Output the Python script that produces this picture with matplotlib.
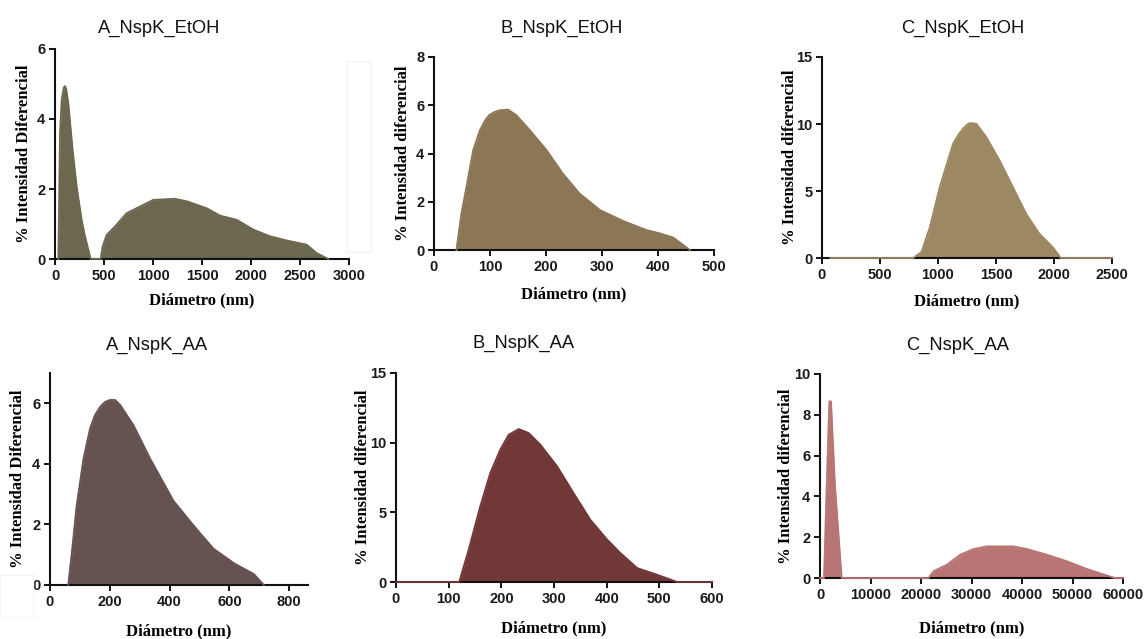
import matplotlib
matplotlib.use("Agg")
import matplotlib.pyplot as plt
from matplotlib.patches import Rectangle

# ---------------- data ----------------
titles = ["A_NspK_EtOH", "B_NspK_EtOH", "C_NspK_EtOH",
          "A_NspK_AA", "B_NspK_AA", "C_NspK_AA"]
ylabels = ["% Intensidad Diferencial", "% Intensidad diferencial", "% Intensidad diferencial",
           "% Intensidad Diferencial", "% Intensidad diferencial", "% Intensidad diferencial"]
xlabel = "Diámetro (nm)"

a_etoh_x = [34, 51, 68, 90, 102, 115, 136, 180, 221, 272, 306, 364, 466, 486, 527, 612, 731, 867,
            1003, 1224, 1343, 1548, 1684, 1854, 2024, 2194, 2364, 2568, 2670, 2789]
a_etoh_y = [0, 3.59, 4.55, 4.90, 4.94, 4.85, 4.45, 3.12, 2.07, 1.12, 0.65, 0, 0, 0.36, 0.69, 0.93,
            1.31, 1.50, 1.69, 1.72, 1.65, 1.45, 1.24, 1.12, 0.84, 0.65, 0.53, 0.41, 0.17, 0]

b_etoh_x = [40, 49, 58, 70, 82, 92, 99, 108, 117, 132, 147, 171, 201, 230, 260, 296, 338, 379,
            403, 427, 457]
b_etoh_y = [0, 1.52, 2.62, 4.14, 4.97, 5.40, 5.60, 5.72, 5.79, 5.82, 5.59, 4.97, 4.14, 3.17,
            2.34, 1.66, 1.20, 0.83, 0.69, 0.52, 0]

c_etoh_x = [72, 786, 858, 930, 1015, 1130, 1180, 1216, 1250, 1273, 1330, 1416, 1530, 1645,
            1759, 1873, 1988, 2059, 2500]
c_etoh_y = [0, 0, 0.45, 2.31, 5.30, 8.53, 9.25, 9.65, 9.95, 10.07, 10.02, 9.03, 7.29, 5.30,
            3.31, 1.82, 0.82, 0, 0]

a_aa_x = [61, 73, 89, 112, 134, 150, 168, 185, 201, 218, 235, 279, 335, 413, 469, 503, 547,
          615, 682, 715]
a_aa_y = [0, 1.06, 2.61, 4.17, 5.17, 5.60, 5.89, 6.05, 6.11, 6.11, 5.94, 5.28, 4.17, 2.78,
          2.10, 1.70, 1.20, 0.72, 0.36, 0]

b_aa_x = [0, 120, 138, 160, 179, 198, 214, 233, 252, 274, 306, 337, 369, 401, 426, 458, 495,
          534, 600]
b_aa_y = [0, 0, 2.32, 5.43, 7.82, 9.50, 10.57, 10.98, 10.69, 9.86, 8.30, 6.39, 4.47, 3.04,
          2.08, 1.00, 0.53, 0, 0]

c_aa_x = [0, 793, 1322, 1850, 2181, 2974, 4295, 21476, 22467, 25110, 27754, 30397, 33040,
          38326, 40970, 44935, 48900, 52864, 58348, 60000]
c_aa_y = [0, 0, 4.49, 8.66, 8.66, 4.49, 0, 0, 0.33, 0.65, 1.14, 1.42, 1.55,
          1.55, 1.42, 1.14, 0.82, 0.44, 0, 0]

xs = [a_etoh_x, b_etoh_x, c_etoh_x, a_aa_x, b_aa_x, c_aa_x]
ys = [a_etoh_y, b_etoh_y, c_etoh_y, a_aa_y, b_aa_y, c_aa_y]

xticks = [[0, 500, 1000, 1500, 2000, 2500, 3000],
          [0, 100, 200, 300, 400, 500],
          [0, 500, 1000, 1500, 2000, 2500],
          [0, 200, 400, 600, 800],
          [0, 100, 200, 300, 400, 500, 600],
          [0, 10000, 20000, 30000, 40000, 50000, 60000]]
yticks = [[0, 2, 4, 6], [0, 2, 4, 6, 8], [0, 5, 10, 15],
          [0, 2, 4, 6], [0, 5, 10, 15], [0, 2, 4, 6, 8, 10]]
xlims = [(0, 3000), (0, 500), (0, 2500), (0, 863), (0, 600), (0, 60000)]
ylims = [(0, 6), (0, 8), (0, 15), (0, 7), (0, 15), (0, 10)]

colors = ["#6c6850", "#8b7655", "#9c8862", "#665250", "#723838", "#b97474"]

# ---------------- layout (pixels) ----------------
W, H = 1146, 639
# left, right, top, bottom in pixels
boxes = [(55, 349, 49, 259), (434, 714, 57, 250), (822, 1112, 57, 258),
         (50, 308, 373, 585), (396, 712, 373, 582), (820, 1123, 374, 578)]
title_pos = [(159, 28), (562, 28), (963, 28), (157, 345), (524, 343), (958, 345)]
xlabel_y = [300, 294, 301, 631, 628, 628]
ylabel_x = [24, 403, 790, 18, 363, 786]

fig = plt.figure(figsize=(W / 100, H / 100), dpi=100)

label_font = dict(family="Liberation Serif", weight="bold", size=12)

for i in range(6):
    l, r, t, b = boxes[i]
    ax = fig.add_axes([l / W, 1 - b / H, (r - l) / W, (b - t) / H])
    ax.fill_between(xs[i], ys[i], 0, color=colors[i], linewidth=0, zorder=2)
    ax.plot(xs[i], ys[i], color=colors[i], linewidth=1.3, zorder=3, clip_on=False)
    ax.set_xlim(*xlims[i])
    ax.set_ylim(*ylims[i])
    ax.set_xticks(xticks[i])
    ax.set_yticks(yticks[i])
    for s in ["top", "right"]:
        ax.spines[s].set_visible(False)
    for s in ["left", "bottom"]:
        ax.spines[s].set_linewidth(1.5)
        ax.spines[s].set_color("#111111")
    ax.tick_params(axis="both", length=4.5, width=1.4, color="#111111", pad=2.5)
    for lab in ax.get_xticklabels() + ax.get_yticklabels():
        lab.set_fontfamily("Liberation Sans")
        lab.set_fontweight("bold")
        lab.set_fontsize(10.5)
        lab.set_color("#1a1a1a")
    ax.set_xlabel(xlabel, **label_font)
    ax.set_ylabel(ylabels[i], **label_font)
    ax.xaxis.set_label_coords(0.5, -(xlabel_y[i] - b) / (b - t), transform=ax.transAxes)
    ax.xaxis.label.set_va("center")
    ax.yaxis.set_label_coords(-(l - ylabel_x[i]) / (r - l), 0.5, transform=ax.transAxes)
    ax.yaxis.label.set_va("center")
    tx, ty = title_pos[i]
    fig.text(tx / W, 1 - ty / H, titles[i], ha="center", va="center",
             family="Liberation Sans", size=13.2, color="#111111")

# faint frame artifacts in the reference
fig.patches.append(Rectangle((347 / W, 1 - 252 / H), 24 / W, 191 / H, transform=fig.transFigure,
                             fill=False, edgecolor="#f3f3f3", linewidth=1))
fig.patches.append(Rectangle((0 / W, 1 - 617 / H), 33 / W, 42 / H, transform=fig.transFigure,
                             fill=False, edgecolor="#f5f5f5", linewidth=1))

fig.savefig("out.png", dpi=100)
